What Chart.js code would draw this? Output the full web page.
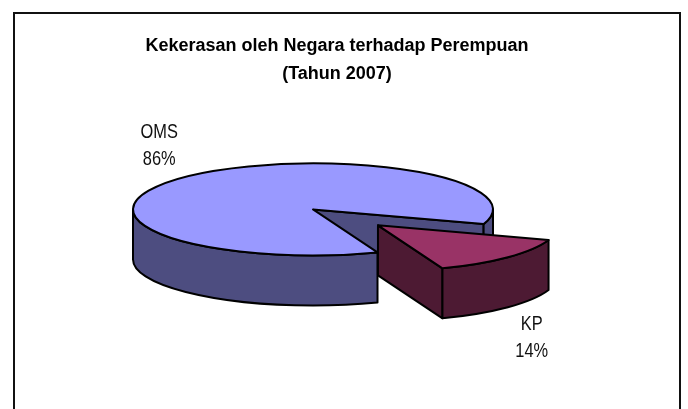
<!DOCTYPE html>
<html>
<head>
<meta charset="utf-8">
<script src="https://cdn.jsdelivr.net/npm/chart.js@4/dist/chart.umd.min.js"></script>
<style>
  html, body { margin: 0; padding: 0; background: #fff; }
  #wrap { position: relative; width: 688px; height: 409px; overflow: hidden; }
  #frame {
    position: absolute; left: 13px; top: 12px; width: 668px; height: 420px;
    border: 2px solid #111; box-sizing: border-box;
  }
  #chart { position: absolute; left: 0; top: 0; }
</style>
</head>
<body>
<div id="wrap">
  <div id="frame"></div>
  <canvas id="chart" width="688" height="409"></canvas>
</div>
<script>
// Data
const titleLines = ["Kekerasan oleh Negara terhadap Perempuan", "(Tahun 2007)"];
const categories = ["OMS", "KP"];
const values = [86, 14];

const FONT = "'Liberation Sans Narrow', 'Arial Narrow', 'Liberation Sans', Arial, sans-serif";

const topColors = ["#9999ff", "#993366"];
const sideColors = ["#4d4d80", "#4d1a33"];

// Plugin vẽ bánh 3D từ các arc mà Chart.js đã tính
const pie3d = {
  id: "pie3d",
  beforeDatasetsDraw(chart, args, opts) {
    const ctx = chart.ctx;
    const meta = chart.getDatasetMeta(0);
    const k = opts.squash;
    const depth = opts.depth;
    const total = values.reduce((a, b) => a + b, 0);

    const slices = meta.data.map((arc, i) => {
      const p = arc.getProps(["x", "y", "startAngle", "endAngle", "outerRadius"], true);
      const mid = (p.startAngle + p.endAngle) / 2;
      const off = arc.options.offset || 0;
      return {
        i: i,
        a1: p.startAngle,
        a2: p.endAngle,
        r: p.outerRadius,
        mid: mid,
        cx: p.x + opts.shiftX + Math.cos(mid) * off,
        cy: p.y + Math.sin(mid) * off * k,
      };
    });

    // sau ra trước
    slices.sort((a, b) => Math.sin(a.mid) - Math.sin(b.mid));

    ctx.save();
    ctx.lineJoin = "round";
    ctx.lineWidth = opts.lineWidth;
    ctx.strokeStyle = "#000";

    function pt(s, a, r, d) {
      return [s.cx + Math.cos(a) * r, s.cy + Math.sin(a) * r * k + d];
    }

    function fillStroke(fill) {
      ctx.fillStyle = fill;
      ctx.fill();
      ctx.stroke();
    }

    slices.forEach((s) => {
      const side = sideColors[s.i];
      // mặt cắt
      const faces = [];
      if (Math.cos(s.a1) < 0) faces.push(s.a1);
      if (Math.cos(s.a2) > 0) faces.push(s.a2);
      faces.forEach((a) => {
        const p0 = pt(s, a, s.r, 0);
        ctx.beginPath();
        ctx.moveTo(s.cx, s.cy);
        ctx.lineTo(p0[0], p0[1]);
        ctx.lineTo(p0[0], p0[1] + depth);
        ctx.lineTo(s.cx, s.cy + depth);
        ctx.closePath();
        fillStroke(side);
      });

      // thành ngoài, phần nhìn thấy (0..PI)
      for (let n = -2; n <= 2; n++) {
        const lo = Math.max(s.a1, n * 2 * Math.PI);
        const hi = Math.min(s.a2, n * 2 * Math.PI + Math.PI);
        if (hi - lo <= 0.001) continue;
        const pHi = pt(s, hi, s.r, 0);
        ctx.beginPath();
        ctx.ellipse(s.cx, s.cy, s.r, s.r * k, 0, lo, hi, false);
        ctx.lineTo(pHi[0], pHi[1] + depth);
        ctx.ellipse(s.cx, s.cy + depth, s.r, s.r * k, 0, hi, lo, true);
        ctx.closePath();
        fillStroke(side);
      }

      // mặt trên
      ctx.beginPath();
      ctx.moveTo(s.cx, s.cy);
      ctx.ellipse(s.cx, s.cy, s.r, s.r * k, 0, s.a1, s.a2, false);
      ctx.closePath();
      fillStroke(topColors[s.i]);
    });

    // nhãn (chữ hẹp kiểu Arial Narrow)
    ctx.fillStyle = "#111";
    ctx.font = opts.labelFont;
    ctx.textAlign = "center";
    ctx.textBaseline = "middle";
    slices.forEach((s) => {
      const c = Math.cos(s.mid);
      const sn = Math.sin(s.mid);
      const lx = s.cx + c * (s.r + opts.labelGap);
      const ly = s.cy + sn * (s.r * k + opts.labelGapY) + (sn > 0 ? depth : 0);
      const pct = Math.round((values[s.i] / total) * 100) + "%";
      ctx.save();
      ctx.translate(lx, ly);
      ctx.scale(opts.labelNarrow, 1);
      ctx.fillText(categories[s.i], 0, -opts.labelLine / 2);
      ctx.fillText(pct, 0, opts.labelLine / 2);
      ctx.restore();
    });
    ctx.restore();
    return false;
  },
};

const chart = new Chart(document.getElementById("chart"), {
  type: "pie",
  data: {
    labels: categories,
    datasets: [
      {
        data: values,
        backgroundColor: topColors,
        offset: [0, 90],
      },
    ],
  },
  plugins: [pie3d],
  options: {
    responsive: false,
    animation: false,
    events: [],
    rotation: 159,
    radius: 180,
    layout: {
      padding: { left: 0, right: 14, top: 0, bottom: 86 },
    },
    plugins: {
      legend: { display: false },
      tooltip: { enabled: false },
      title: {
        display: true,
        text: titleLines,
        color: "#000",
        font: { family: FONT, size: 18, weight: "bold", lineHeight: 1.55 },
        padding: { top: 32, bottom: 8 },
      },
      pie3d: {
        shiftX: -24,
        squash: 0.256,
        depth: 50,
        lineWidth: 2,
        labelFont: "20px " + FONT,
        labelNarrow: 0.82,
        labelGap: 33,
        labelGapY: 45,
        labelLine: 27,
      },
    },
  },
});
</script>
</body>
</html>
